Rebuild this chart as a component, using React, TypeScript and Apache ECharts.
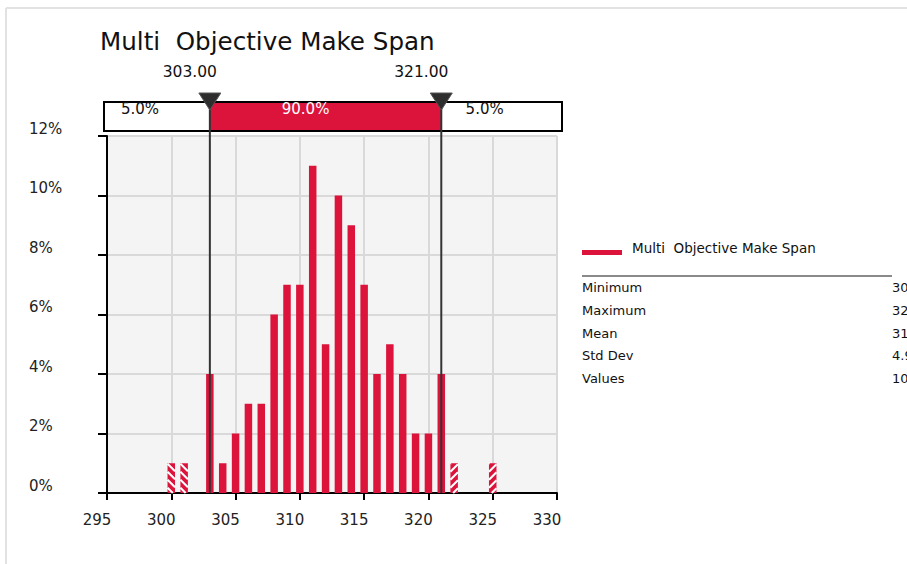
import React, { useEffect, useRef } from "react";
import * as echarts from "echarts";

// Distribution of simulated make span (100 iterations)
const TITLE = "Multi  Objective Make Span";
const binValues = [300, 301, 303, 304, 305, 306, 307, 308, 309, 310, 311, 312, 313, 314, 315, 316, 317, 318, 319, 320, 321, 322, 325];
const binCounts = [1, 1, 4, 1, 2, 3, 3, 6, 7, 7, 11, 5, 10, 9, 7, 4, 5, 4, 2, 2, 4, 1, 1];

// Delimiters of the 90% interval and the probability of each region
const delimiters = [303, 321];
const delimiterLabels = ["303.00", "321.00"];
const regionPercents = [5.0, 90.0, 5.0];

// Axis ranges
const xMin = 295;
const xMax = 330;
const xStep = 5;
const yMin = 0;
const yMax = 12;
const yStep = 2;

const statLabels = ["Minimum", "Maximum", "Mean", "Std Dev", "Values"];

const FONT = "DejaVu Sans";
const RED = "#dc143c";
const BAR_W = 7.5;

function computeStats() {
  let n = 0;
  let sum = 0;
  binValues.forEach((v, i) => {
    n += binCounts[i];
    sum += v * binCounts[i];
  });
  const mean = sum / n;
  let ss = 0;
  binValues.forEach((v, i) => {
    ss += binCounts[i] * (v - mean) * (v - mean);
  });
  const sd = Math.sqrt(ss / (n - 1));
  const used = binValues.filter((_, i) => binCounts[i] > 0);
  return [
    Math.min(...used).toFixed(2),
    Math.max(...used).toFixed(2),
    mean.toFixed(2),
    sd.toFixed(2),
    String(n),
  ];
}

// Bar with diagonal white hatching; dir = 1 draws "\" stripes, dir = -1 draws "/" stripes
function hatchedBar(dir: number) {
  return (params: any, api: any) => {
    const [cx, top] = api.coord([api.value(0), api.value(1)]);
    const [, base] = api.coord([api.value(0), 0]);
    const left = cx - BAR_W / 2;
    const w = BAR_W;
    const spacing = 8;
    const children: any[] = [
      { type: "rect", shape: { x: left, y: top, width: w, height: base - top }, style: { fill: RED } },
    ];
    for (let y0 = top - w - spacing; y0 <= base + w + spacing; y0 += spacing) {
      let t0: number;
      let t1: number;
      if (dir > 0) {
        t0 = Math.max(0, top - y0);
        t1 = Math.min(w, base - y0);
      } else {
        t0 = Math.max(0, y0 - base);
        t1 = Math.min(w, y0 - top);
      }
      if (t1 <= t0) continue;
      children.push({
        type: "line",
        shape: {
          x1: left + t0,
          y1: y0 + dir * t0,
          x2: left + t1,
          y2: y0 + dir * t1,
        },
        style: { stroke: "#ffffff", lineWidth: 2 },
      });
    }
    return { type: "group", children };
  };
}

export default function App() {
  const ref = useRef<HTMLDivElement>(null);

  useEffect(() => {
    if (!ref.current) return;
    const chart = echarts.init(ref.current, null, { renderer: "svg" });

    const total = binCounts.reduce((a, b) => a + b, 0);
    const points = binValues.map((v, i) => [v, (binCounts[i] / total) * 100]);
    const inside = points.filter((p) => p[0] >= delimiters[0] && p[0] <= delimiters[1]);
    const lowTail = points.filter((p) => p[0] < delimiters[0]);
    const highTail = points.filter((p) => p[0] > delimiters[1]);

    chart.setOption({
      animation: false,
      backgroundColor: "#ffffff",
      grid: {
        left: 107,
        right: 350,
        top: 136,
        bottom: 71,
        show: true,
        backgroundColor: "#f4f4f4",
        borderWidth: 0,
      },
      xAxis: {
        type: "value",
        min: xMin,
        max: xMax,
        interval: xStep,
        axisLine: { show: true, onZero: false, lineStyle: { color: "#000", width: 2 } },
        axisTick: { show: true, length: 7, lineStyle: { color: "#000", width: 2 } },
        axisLabel: {
          fontFamily: FONT,
          fontSize: 15,
          color: "#222",
          margin: 19,
          padding: [0, 20, 0, 0],
        },
        splitLine: { show: true, lineStyle: { color: "#d9d9d9", width: 2 } },
      },
      yAxis: {
        type: "value",
        min: yMin,
        max: yMax,
        interval: yStep,
        axisLine: { show: true, lineStyle: { color: "#000", width: 2 } },
        axisTick: { show: true, length: 9, lineStyle: { color: "#000", width: 2 } },
        axisLabel: {
          formatter: "{value}%",
          fontFamily: FONT,
          fontSize: 15,
          color: "#222",
          align: "left",
          verticalAlign: "bottom",
          margin: 78,
        },
        splitLine: { show: true, lineStyle: { color: "#d9d9d9", width: 2 } },
      },
      series: [
        {
          name: TITLE,
          type: "bar",
          barWidth: BAR_W,
          data: inside,
          itemStyle: { color: RED },
        },
        {
          name: "low tail",
          type: "custom",
          renderItem: hatchedBar(1),
          encode: { x: 0, y: 1 },
          data: lowTail,
        },
        {
          name: "high tail",
          type: "custom",
          renderItem: hatchedBar(-1),
          encode: { x: 0, y: 1 },
          data: highTail,
        },
      ],
    });

    const [xa, xb] = delimiters.map((v) => chart.convertToPixel({ xAxisIndex: 0 }, v) as number);
    const yBase = chart.convertToPixel({ yAxisIndex: 0 }, yMin) as number;
    const stats = computeStats();

    const boxLeft = 104;
    const boxRight = 562;
    const boxTop = 102;
    const boxH = 29;

    const textStyle = (extra: any) => ({ fontFamily: FONT, fill: "#111", ...extra });

    const graphic: any[] = [
      // outer frame
      { type: "line", shape: { x1: 6, y1: 8, x2: 907, y2: 8 }, style: { stroke: "#e2e2e2", lineWidth: 2 } },
      { type: "line", shape: { x1: 6, y1: 8, x2: 6, y2: 564 }, style: { stroke: "#e2e2e2", lineWidth: 2 } },
      // title
      {
        type: "text",
        x: 100,
        y: 41,
        style: textStyle({ text: TITLE, fontSize: 24.6, verticalAlign: "middle", align: "left" }),
      },
      // delimiter bar
      { type: "rect", shape: { x: boxLeft, y: boxTop, width: boxRight - boxLeft, height: boxH }, style: { fill: "#fff" } },
      { type: "rect", shape: { x: xa, y: boxTop, width: xb - xa, height: boxH }, style: { fill: RED } },
      {
        type: "rect",
        shape: { x: boxLeft, y: boxTop, width: boxRight - boxLeft, height: boxH },
        style: { fill: "none", stroke: "#000", lineWidth: 2 },
      },
      {
        type: "text",
        x: (boxLeft + xa) / 2 - 17,
        y: 109,
        style: textStyle({ text: regionPercents[0].toFixed(1) + "%", fontSize: 15, align: "center", verticalAlign: "middle" }),
      },
      {
        type: "text",
        x: (xa + xb) / 2 - 20,
        y: 109,
        style: textStyle({ text: regionPercents[1].toFixed(1) + "%", fontSize: 15, align: "center", verticalAlign: "middle", fill: "#fff" }),
      },
      {
        type: "text",
        x: (xb + boxRight) / 2 - 17,
        y: 109,
        style: textStyle({ text: regionPercents[2].toFixed(1) + "%", fontSize: 15, align: "center", verticalAlign: "middle" }),
      },
      // legend
      { type: "rect", shape: { x: 582, y: 250, width: 40, height: 5 }, style: { fill: RED } },
      {
        type: "text",
        x: 632,
        y: 248,
        style: textStyle({ text: TITLE, fontSize: 13.5, verticalAlign: "middle" }),
      },
      { type: "line", shape: { x1: 582, y1: 276, x2: 892, y2: 276 }, style: { stroke: "#8a8a8a", lineWidth: 2 } },
    ];

    [xa, xb].forEach((px, i) => {
      graphic.push(
        {
          type: "line",
          z: 20,
          shape: { x1: px, y1: 100, x2: px, y2: yBase },
          style: { stroke: "#333", lineWidth: 2 },
        },
        {
          type: "polygon",
          z: 21,
          shape: { points: [[px - 11, 93], [px + 11, 93], [px, 110]] },
          style: { fill: "#2e2e2e", stroke: "#555", lineWidth: 1 },
        },
        {
          type: "text",
          x: px - 20,
          y: 72,
          style: textStyle({ text: delimiterLabels[i], fontSize: 15.5, align: "center", verticalAlign: "middle" }),
        }
      );
    });

    statLabels.forEach((label, i) => {
      const y = 287.5 + i * 22.75;
      graphic.push(
        { type: "text", x: 582, y, style: textStyle({ text: label, fontSize: 13, verticalAlign: "middle" }) },
        { type: "text", x: 892, y, style: textStyle({ text: stats[i], fontSize: 13, verticalAlign: "middle" }) }
      );
    });

    chart.setOption({ graphic });

    return () => chart.dispose();
  }, []);

  return (
    <div
      ref={ref}
      style={{ position: "absolute", left: 0, top: 0, width: 907, height: 564 }}
    />
  );
}
